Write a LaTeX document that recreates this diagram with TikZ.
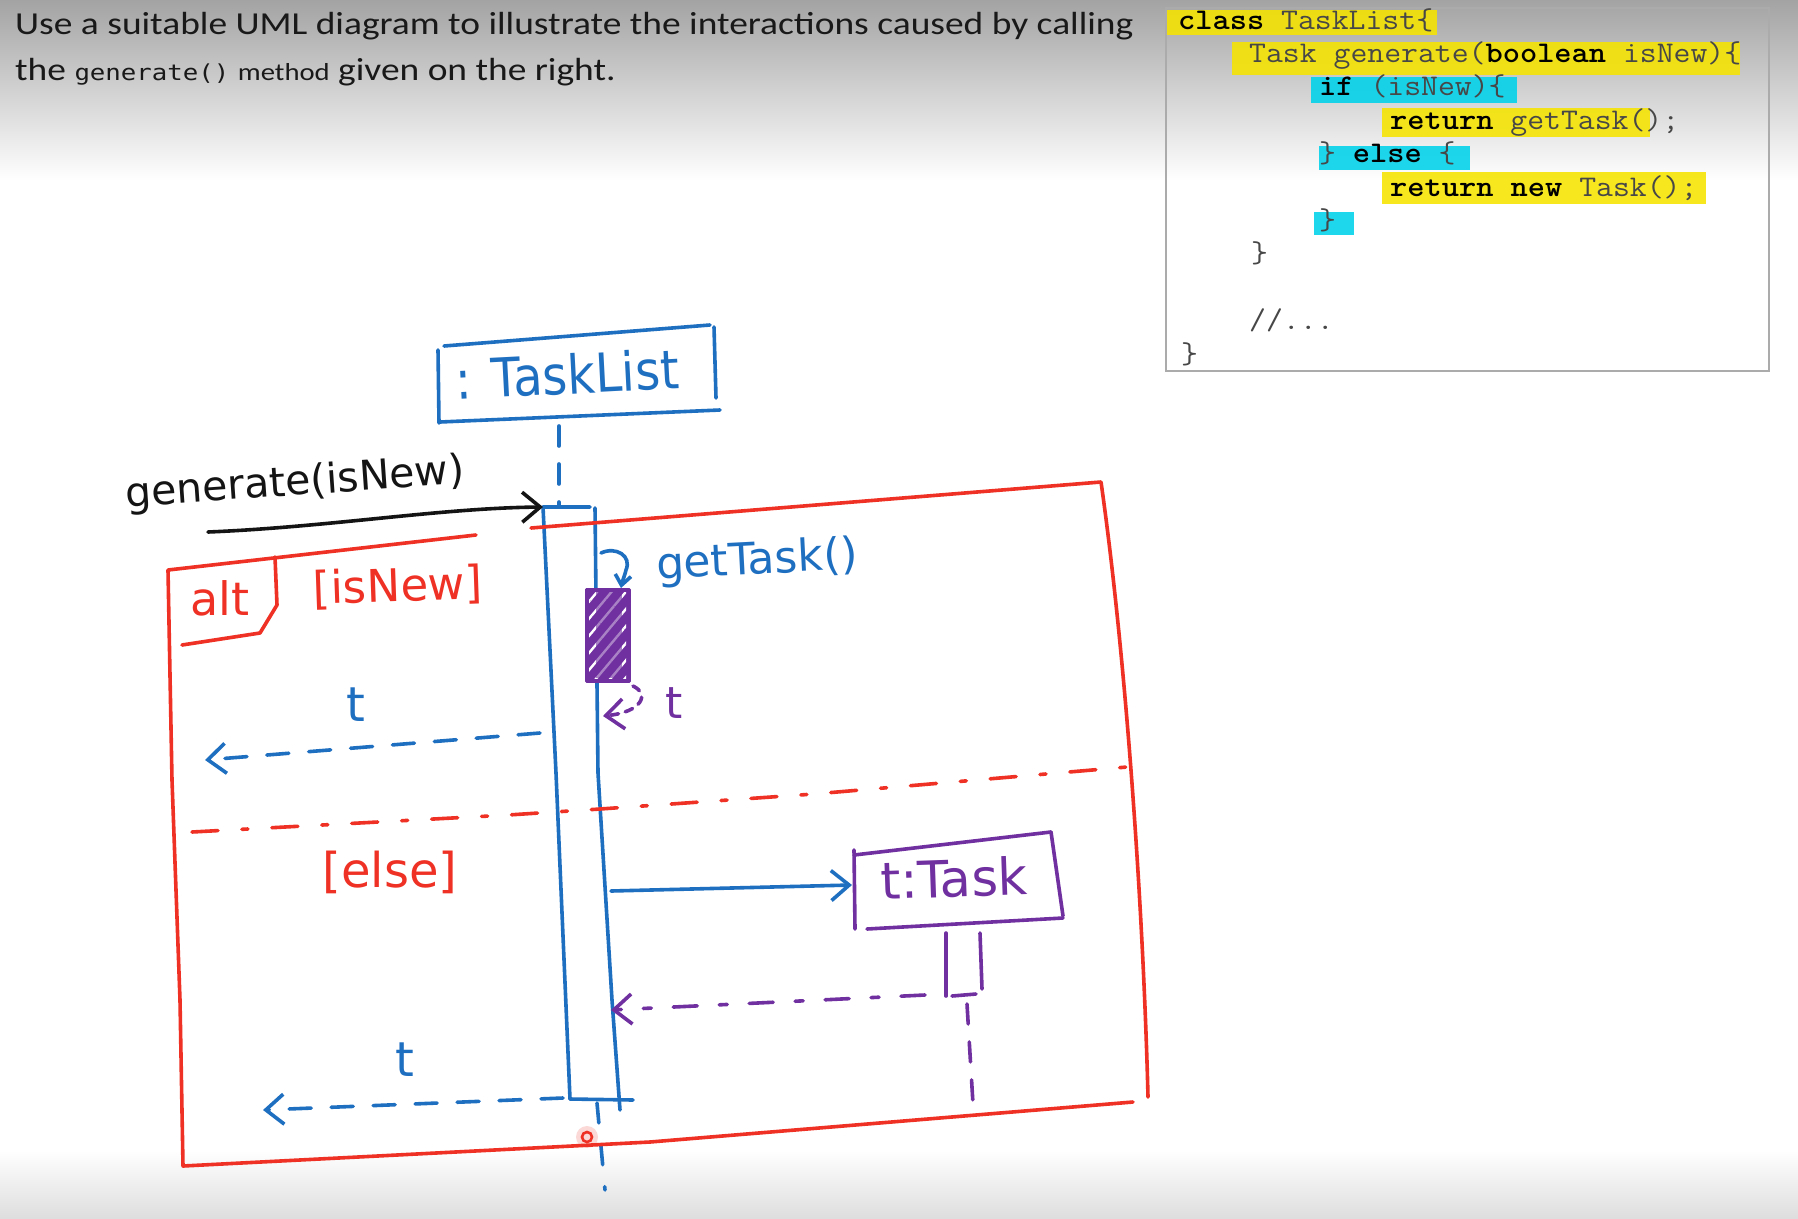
\documentclass[tikz,border=0pt]{standalone}
\usepackage{fontspec}
\usepackage{graphicx}
\setmainfont{Carlito}
\newfontfamily\handfont{DejaVu Sans}
\newfontfamily\titlemono{DejaVu Sans Mono}
\usetikzlibrary{arrows.meta,patterns.meta}
\definecolor{hblue}{HTML}{1F6FC1}
\definecolor{hred}{HTML}{EE3124}
\definecolor{hpurple}{HTML}{7030A0}
\definecolor{hyellow}{HTML}{F5E400}
\definecolor{hcyan}{HTML}{00D2EA}
\newcommand\kw[1]{{\bfseries\color{black}#1}}
\newcommand\hsc[1]{\scalebox{1.093}[1]{#1}}
\newcommand\tsc[1]{\scalebox{1.17}[1]{#1}}
\begin{document}
\begin{tikzpicture}[x=1pt,y=-1pt,
  pen/.style={line width=3.6pt,line cap=round,line join=round},
  dsh/.style={dash pattern=on 22pt off 20pt},
  sdsh/.style={dash pattern=on 8pt off 7pt},
  barb/.style={-{Straight Barb[length=18pt,width=30pt]}},
  sbarb/.style={-{Straight Barb[length=10pt,width=16pt]}},
  hw/.style={inner sep=0pt},
  code/.style={anchor=base west,inner sep=0pt,font=\ttfamily\fontsize{30}{30}\selectfont,text=black!72},
  hl/.style={fill opacity=0.88}
]
\useasboundingbox (0,0) rectangle (1798,1218);
\fill[white] (0,0) rectangle (1798,1218);
\shade[top color=black!36,bottom color=white] (0,0) rectangle (1798,180);
\shade[top color=white,bottom color=black!13] (0,1150) rectangle (1798,1218);

% ---------- code box ----------
\fill[hyellow,hl] (1167,10) rectangle (1437,35);
\fill[hyellow,hl] (1232,42) rectangle (1740,75);
\fill[hcyan,hl] (1311,77) rectangle (1517,103);
\fill[hyellow,hl] (1382,108) rectangle (1650,137);
\fill[hcyan,hl] (1319,146) rectangle (1470,170);
\fill[hyellow,hl] (1382,172) rectangle (1706,204);
\fill[hcyan,hl] (1314,212) rectangle (1354,235);
\node[draw=black!33,line width=2pt,minimum width=603pt,minimum height=363pt,anchor=north west,inner sep=0pt] (codebox) at (1165,7) {};
\node[code] (c1) at (1178,29) {\hsc{\kw{class} TaskList\{}};
\node[code] (c2) at (1249,62.4) {\hsc{Task generate(\kw{boolean} isNew)\{}};
\node[code] (c3) at (1319,95.8) {\hsc{\kw{if} (isNew)\{}};
\node[code] (c4) at (1390,129.2) {\hsc{\kw{return} getTask();}};
\node[code] (c5) at (1319,162.6) {\hsc{\} \kw{else} \{}};
\node[code] (c6) at (1390,196) {\hsc{\kw{return new} Task();}};
\node[code] (c7) at (1319,229.4) {\hsc{\}}};
\node[code] (c8) at (1251,262.8) {\hsc{\}}};
\node[code] (c9) at (1249,329.6) {\hsc{//...}};
\node[code] (c10) at (1181,363) {\hsc{\}}};

% ---------- title ----------
\node[anchor=base west,inner sep=0pt,font=\fontsize{32}{32}\selectfont,text=black!90] (t1) at (15,34)
  {\tsc{Use a suitable UML diagram to illustrate the interactions caused by calling}};
\node[anchor=base west,inner sep=0pt,font=\fontsize{32}{32}\selectfont,text=black!90] (t2) at (15,80)
  {\tsc{the {\titlemono\fontsize{22}{22}\selectfont generate()} {\fontsize{24.5}{24.5}\selectfont method} given on the right.}};

% ---------- :TaskList ----------
\node[hw,text=hblue,font=\handfont\fontsize{48}{48}\selectfont,rotate=3] (tl) at (567,374) {\scalebox{1}[1.12]{: TaskList}};
\draw[pen,hblue] (444,346) -- (710,325);
\draw[pen,hblue] (438,350) -- (439,423);
\draw[pen,hblue] (714,327) -- (716,398);
\draw[pen,hblue] (440,422) -- (720,410);
\coordinate (tlb) at (559,426);
\coordinate (acttop) at (559,507);
\draw[pen,hblue,dash pattern=on 20pt off 18pt] (tlb) -- (acttop);

% activation of TaskList
\coordinate (actTL) at (543,507);
\coordinate (actTR) at (590,507);
\coordinate (actBL) at (570,1099);
\coordinate (actBR) at (633,1100);
\draw[pen,hblue] (actBL) -- (556,773) -- (actTL) -- (actTR);
\draw[pen,hblue] (595,508) -- (598,773) -- (612,1000) -- (620,1110);
\draw[pen,hblue] (actBL) -- (actBR);
\coordinate (llb1) at (597,1103);
\coordinate (llb2) at (605,1190);
\draw[pen,hblue,dash pattern=on 20pt off 22pt] (llb1) -- (llb2);

% generate(isNew)
\coordinate (gs) at (208,532);
\draw[pen,black!92,barb] (gs) .. controls (330,527) and (440,508) .. (actTL);
\node[hw,text=black!92,font=\handfont\fontsize{41}{41}\selectfont,rotate=4] (gen) at (295,484) {generate(isNew)};

% ---------- alt frame ----------
\draw[pen,hred] (476,535) -- (168,570) -- (172,780) -- (180,1000) -- (183,1166) -- (650,1142) -- (1133,1102);
\draw[pen,hred] (531,528) -- (1101,482) .. controls (1125,650) and (1143,900) .. (1148,1097);
\draw[pen,hred] (275,557) -- (277,605) -- (260,633) -- (182,645);
\node[hw,text=hred,font=\handfont\fontsize{46}{46}\selectfont] (alt) at (220,598) {alt};
\node[hw,text=hred,font=\handfont\fontsize{45}{45}\selectfont,rotate=2] (isnew) at (398,587) {[isNew]};
\draw[pen,hred,dash pattern=on 26pt off 24pt on 6pt off 24pt] (192,832) -- (508,815) -- (600,809) -- (814,794) -- (1127,767);
\node[hw,text=hred,font=\handfont\fontsize{48}{48}\selectfont] (else) at (390,872) {[else]};

% getTask() self call
\coordinate (gtS) at (601,553);
\coordinate (gtE) at (621,588);
\draw[pen,hblue,sbarb] (gtS) .. controls (616,546) and (632,556) .. (626,570) .. controls (624,578) and (622,582) .. (gtE);
\node[hw,text=hblue,font=\handfont\fontsize{44}{44}\selectfont,rotate=3] (gt) at (757,562) {getTask()};

% nested activation (hatched)
\fill[hpurple] (586,589) rectangle (629,681);
\path[pattern={Lines[angle=50,distance=11pt,line width=2.4pt]},pattern color=white] (589,592) rectangle (626,678);
\fill[hpurple,opacity=0.6] (596,592) rectangle (622,678);
\draw[pen,hpurple,line width=3pt] (586,589) rectangle (629,681);

% small return t
\coordinate (srS) at (633,686);
\coordinate (srE) at (603,716);
\draw[pen,hpurple,sdsh,barb] (srS) .. controls (650,694) and (642,712) .. (srE);
\node[hw,text=hpurple,font=\handfont\fontsize{44}{44}\selectfont] (rt) at (674,703) {t};

% return t (isNew branch)
\coordinate (r1S) at (540,733);
\coordinate (r1E) at (205,760);
\draw[pen,hblue,dsh,barb] (r1S) -- (r1E);
\node[hw,text=hblue,font=\handfont\fontsize{48}{48}\selectfont] (r1) at (356,705) {t};

% create t:Task
\coordinate (cS) at (611,891);
\node[hw,text=hpurple,font=\handfont\fontsize{51}{51}\selectfont,rotate=2] (ttask) at (954,878) {t:Task};
\coordinate (cE) at (852,885);
\draw[pen,hblue,barb] (cS) -- (cE);
\draw[pen,hpurple] (854,855) -- (1051,832);
\draw[pen,hpurple] (854,850) -- (855,929);
\draw[pen,hpurple] (1051,832) -- (1063,916);
\draw[pen,hpurple] (867,929) -- (1063,918);
% Task activation
\draw[pen,hpurple] (946,933) -- (946,996);
\draw[pen,hpurple] (980,933) -- (982,989);
\draw[pen,hpurple] (952,996) -- (976,994);
\coordinate (tk1) at (967,1004);
\coordinate (tk2) at (973,1104);
\draw[pen,hpurple,dash pattern=on 20pt off 18pt] (tk1) -- (tk2);
% return from Task
\coordinate (r3S) at (925,995);
\coordinate (r3E) at (611,1010);
\draw[pen,hpurple,dash pattern=on 24pt off 22pt on 8pt off 22pt,barb] (r3S) -- (r3E);

% final return t
\coordinate (r2S) at (563,1098);
\coordinate (r2E) at (263,1110);
\draw[pen,hblue,dsh,barb] (r2S) -- (r2E);
\node[hw,text=hblue,font=\handfont\fontsize{48}{48}\selectfont] (r2) at (405,1060) {t};

% cursor dot
\fill[hred,opacity=0.18] (587,1137) circle (11);
\draw[hred,line width=2.6pt] (587,1137) circle (5);
\end{tikzpicture}
\end{document}
